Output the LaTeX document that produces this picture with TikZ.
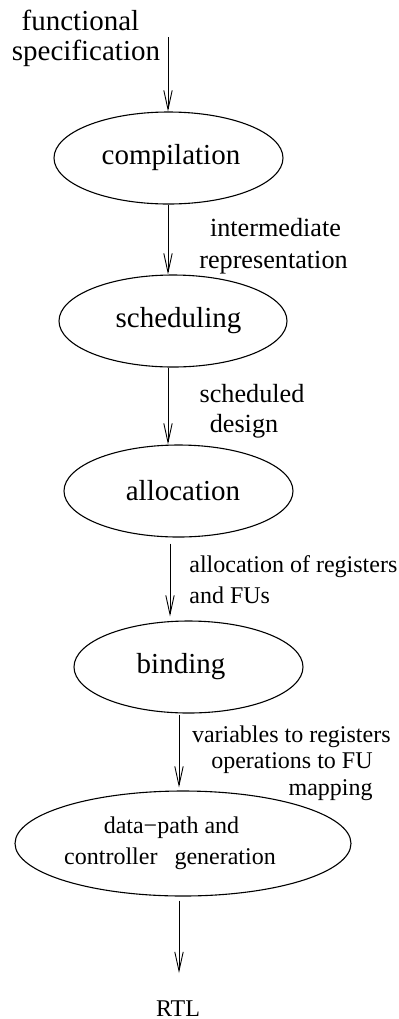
\documentclass[tikz,border=0pt]{standalone}
\usepackage{fontspec}
\setmainfont{Liberation Serif}
\usetikzlibrary{shapes.geometric,arrows.meta,calc}

\tikzset{
  big/.style={font=\fontsize{14.5pt}{17pt}\selectfont},
  mid/.style={font=\fontsize{13.1pt}{16pt}\selectfont},
  small/.style={font=\fontsize{12pt}{14.5pt}\selectfont},
  stage/.style={ellipse, draw, line width=0.55pt, inner sep=0pt,
    minimum width=114.5pt, minimum height=46pt, big},
  txt/.style={inner sep=0pt, anchor=base},
  arr/.style={line width=0.45pt,
    -{Straight Barb[length=9.5pt,width=4.2pt,line width=0.45pt]}},
}

\begin{document}
\begin{tikzpicture}[x=0.5pt,y=-0.5pt]
  \useasboundingbox (0,0) rectangle (398,1019);

  % synthesis stages
  \node[stage] (comp)  at (168.5,158)  {\hspace*{2.5pt}compilation};
  \node[stage, minimum width=114pt] (sched) at (173,321) {\hspace*{5.5pt}scheduling};
  \node[stage] (alloc) at (178.5,491)  {\hspace*{4.5pt}allocation};
  \node[stage] (bind)  at (188.5,667)  {binding\hspace*{7.5pt}};
  \node[stage, minimum width=130pt, minimum height=52.5pt, small, align=center]
    (dp) at (183,843.5)
    {\rule{0pt}{0pt}data−path and\hspace*{11.5pt}\\[1pt]
     controller\hspace{5.5pt} generation\hspace*{13pt}};

  % vertical guides for the flow arrows
  \coordinate (g1) at (168,37);
  \coordinate (g4) at (170,0);
  \coordinate (g5) at (179,0);
  \coordinate (out) at (179,973);

  % flow arrows
  \draw[arr] (g1) -- (g1 |- comp.north);
  \draw[arr] (comp.south -| g1) -- (g1 |- sched.north);
  \draw[arr] (sched.south -| g1) -- (g1 |- alloc.north);
  \draw[arr, shorten <=3pt, shorten >=2pt] (alloc.south -| g4) -- (bind.north -| g4);
  \draw[arr, shorten <=0.5pt, shorten >=1.5pt] (bind.south -| g5) -- (dp.north -| g5);
  \draw[arr, shorten <=2pt] (dp.south -| g5) -- (out);

  % input and output
  \node[txt, big] (in1) at (80.5,30) {functional};
  \node[txt, big] (in2) at (86,60) {specification};
  \node[txt, small] (rtl) at (178,1016) {RTL};

  % intermediate results
  \node[txt, mid] (l1a) at (275.5,236) {intermediate};
  \node[txt, mid] (l1b) at (273.5,268) {representation};
  \node[txt, mid] (l2a) at (252,402) {scheduled};
  \node[txt, mid] (l2b) at (244,432) {design};
  \node[txt, small, anchor=base west] (l3a) at (189,572) {allocation of registers};
  \node[txt, small, anchor=base west] (l3b) at (189,603) {and FUs};
  \node[txt, small, anchor=base east] (l4a) at (391,742.5) {variables to registers};
  \node[txt, small, anchor=base east] (l4b) at (373,768) {operations to FU};
  \node[txt, small, anchor=base east] (l4c) at (373,795) {mapping};
\end{tikzpicture}
\end{document}
